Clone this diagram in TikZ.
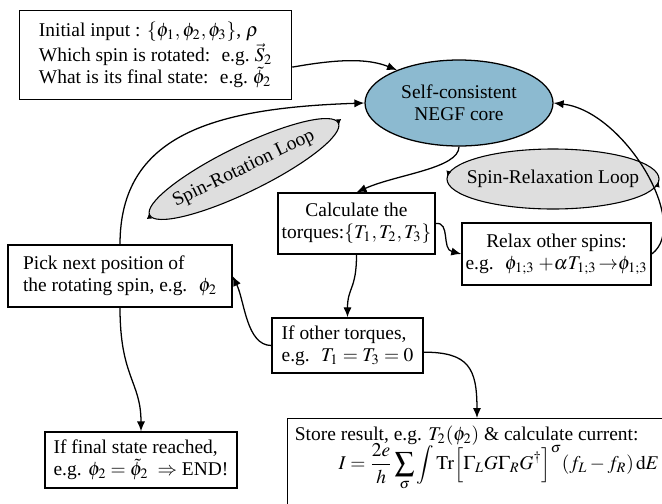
\documentclass[tikz,border=0pt]{standalone}
\usepackage{amsmath}
\usepackage{mathptmx}
\usepackage{fontspec}
\setmainfont{Liberation Serif}
\usetikzlibrary{arrows.meta,shapes.geometric,decorations.markings}
\definecolor{corefill}{RGB}{140,186,208}
\definecolor{loopfill}{RGB}{222,222,222}
\tikzset{
  every node/.style={font=\fontsize{10.7}{12.2}\selectfont},
  box/.style={draw, line width=0.7pt, inner xsep=4pt, inner ysep=2pt},
  flow/.style={line width=0.7pt, -{Latex[length=5.5pt,width=4.5pt]}},
  looptip/.tip={Latex[length=3.2pt,width=2.8pt]},
  loopcw/.style={draw, fill=loopfill, line width=0.6pt, postaction={decorate},
    decoration={markings,
      mark=at position 0.005 with {\arrow{looptip}},
      mark=at position 0.505 with {\arrow{looptip}}}},
  loopccw/.style={draw, fill=loopfill, line width=0.6pt, postaction={decorate},
    decoration={markings,
      mark=at position 0.005 with {\arrowreversed{looptip}},
      mark=at position 0.505 with {\arrowreversed{looptip}}}}
}
\begin{document}
\begin{tikzpicture}[x=0.55pt, y=-0.55pt]
    \useasboundingbox (0,0) rectangle (662,503);
    \clip (0,0) rectangle (662,503);

    % the two loops
    \draw[loopcw, rotate around={26:(244,169)}] (244,169) ellipse (105 and 23);
    \node[rotate=26] (rotlabel) at (244,169) {Spin-Rotation Loop};
    \draw[loopccw] (553,179) ellipse (106 and 30);
    \node (relaxlabel) at (553,179) {Spin-Relaxation Loop};

    % steps
    \node[box, anchor=north west, minimum width=149.6pt, minimum height=49pt, align=left] (init) at (19,10)
        {Initial input : $\{\phi_1,\phi_2,\phi_3\}$, $\rho$\\
         Which spin is rotated:~ e.g.~$\vec{S}_2$\\
         What is its final state:~ e.g.~$\tilde{\phi}_2$};
    \node[ellipse, draw, fill=corefill, line width=0.7pt, minimum width=103.4pt, minimum height=47.3pt,
          inner sep=0pt, align=center] (core) at (459,103) {Self-consistent\\NEGF core};
    \node[box, inner xsep=2pt, minimum width=86.4pt, minimum height=33.6pt, align=center] (calc) at (356.5,223.5)
        {Calculate the\\torques:$\{T_1,T_2,T_3\}$};
    \node[box, inner xsep=2pt, minimum width=100.7pt, minimum height=34.1pt, align=center] (relax) at (556.5,254)
        {Relax other spins:\\e.g.~ $\phi_{1;3}\;{+}\alpha T_{1;3}\,{\to}\phi_{1;3}$};
    \node[box, minimum width=123.2pt, minimum height=34.1pt, align=left] (pick) at (120,276)
        {Pick next position of\\the rotating spin, e.g.~ $\phi_2$};
    \node[box, minimum width=83pt, minimum height=30.3pt, align=left] (other) at (347.5,345.5)
        {If other torques,\\e.g.~ $T_1=T_3=0$};
    \node[box, minimum width=105.6pt, minimum height=30.8pt, align=left] (final) at (141,460)
        {If final state reached,\\e.g. $\phi_2=\tilde{\phi}_2\ \Rightarrow$ END!};
    \node[box, anchor=north west, minimum width=207.9pt, inner ysep=4pt, align=left] (store) at (287,418)
        {Store result, e.g. $T_2(\phi_2)$ \& calculate current:\\[-2pt]
         \hspace*{24pt}$\displaystyle I=\frac{2e}{h}\sum_\sigma\int\mathrm{Tr}\Big[\Gamma_L G\Gamma_R G^\dagger\Big]^\sigma(f_L-f_R)\,\mathrm{d}E$\\[6pt]};

    % connectors
    \draw[flow] (init.-5) .. controls +(45,-8) and +(-30,-12) .. (core.152);
    \draw[flow] (pick.north) .. controls +(0,-110) and +(-150,5) .. (core.west);
    \draw[flow] (relax.east) .. controls +(40,-30) and +(70,8) .. (core.east);
    \draw[flow] (core.south) .. controls +(0,22) and +(40,-18) .. (calc.north);
    \draw[flow] (calc.east) .. controls +(15,-2) and +(-20,-5) .. (relax.west);
    \draw[flow] (calc.south) .. controls +(0,35) and +(0,-30) .. (other.north);
    \draw[flow] (other.west) .. controls +(-25,0) and +(12,25) .. (pick.east);
    \draw[flow] (pick.south) .. controls +(0,70) and +(0,-50) .. (final.north);
    \draw[flow] (other.-5) .. controls +(45,0) and +(0,-50) .. (store.north);
\end{tikzpicture}
\end{document}
